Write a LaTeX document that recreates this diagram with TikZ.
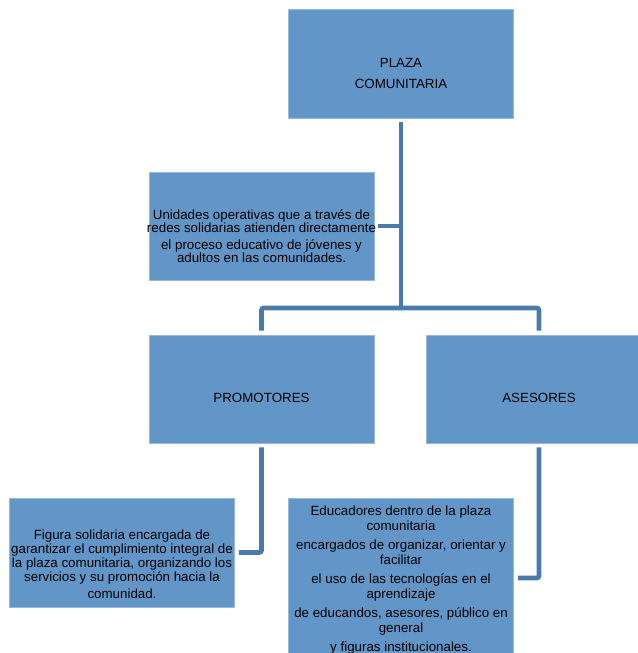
\documentclass[tikz,border=0pt]{standalone}
\usepackage{fontspec}
\setmainfont{Liberation Sans}
\usetikzlibrary{positioning}
\definecolor{boxfill}{RGB}{98, 150, 201}
\definecolor{boxedge}{RGB}{150, 185, 220}
\definecolor{linkblue}{RGB}{74, 122, 172}

\tikzset{
    orgbox/.style={fill=boxfill, draw=boxedge, line width=0.4pt, inner sep=0pt,
        minimum width=225*0.75pt, minimum height=108*0.75pt},
    orgtext/.style={align=center, inner sep=0pt, font=\fontsize{10}{10.6}\selectfont},
    link/.style={draw=linkblue, line width=3.4pt, rounded corners=1.5pt,
        shorten <=3pt, shorten >=3pt}
}

\begin{document}
\begin{tikzpicture}[x=0.75pt, y=-0.75pt]
    \useasboundingbox (0, 0) rectangle (638, 653);
    \clip (0, 0) rectangle (638, 653);

    % boxes
    \node[orgbox, minimum height=109*0.75pt] (plaza) at (401, 63.5) {};
    \node[orgbox] (unid) at (261.5, 226) {};
    \node[orgbox] (promo) at (261.5, 389) {};
    \node[orgbox] (ases) at (539, 389) {};
    \node[orgbox, minimum height=109*0.75pt] (figura) at (122, 552.5) {};
    \node[orgbox, minimum height=160*0.75pt] (educ) at (401, 578) {};

    % texts
    \node[orgtext] (plazatxt) at ([yshift=-7.5pt]plaza.center) {PLAZA\\[5pt]COMUNITARIA};
    \node[orgtext] (promotxt) at ([yshift=-6.5pt]promo.center) {PROMOTORES};
    \node[orgtext] (asestxt) at ([yshift=-6.5pt]ases.center) {ASESORES};
    \node[orgtext, font=\fontsize{10}{9.8}\selectfont] (unidtxt) at ([yshift=-7.5pt]unid.center)
        {Unidades operativas que a través de\\redes solidarias atienden directamente\\[3pt]
         el proceso educativo de jóvenes y\\adultos en las comunidades.};
    \node[orgtext] (figtxt) at ([yshift=-8.5pt]figura.center)
        {Figura solidaria encargada de\\garantizar el cumplimiento integral de\\
         la plaza comunitaria, organizando los\\servicios y su promoción hacia la\\[2pt]
         comunidad.};
    \node[orgtext, font=\fontsize{10}{11}\selectfont] (eductxt) at ([yshift=-1.5pt]educ.center)
        {Educadores dentro de la plaza\\comunitaria\\[3.5pt]
         encargados de organizar, orientar y\\facilitar\\[3.5pt]
         el uso de las tecnologías en el\\aprendizaje\\[3.5pt]
         de educandos, asesores, público en\\general\\[3.5pt]
         y figuras institucionales.};

    % connectors
    \coordinate (fork) at (401, 308);
    \draw[link, shorten >=0pt] (plaza.south) -- (fork);
    \draw[link] (promo.north) |- (fork) -| (ases.north);
    \draw[link, shorten <=0pt] (plaza.south |- unid.east) -- (unid.east);
    \draw[link] (promo.south) |- (figura.east);
    \draw[link] (ases.south) |- (educ.east);
\end{tikzpicture}
\end{document}
